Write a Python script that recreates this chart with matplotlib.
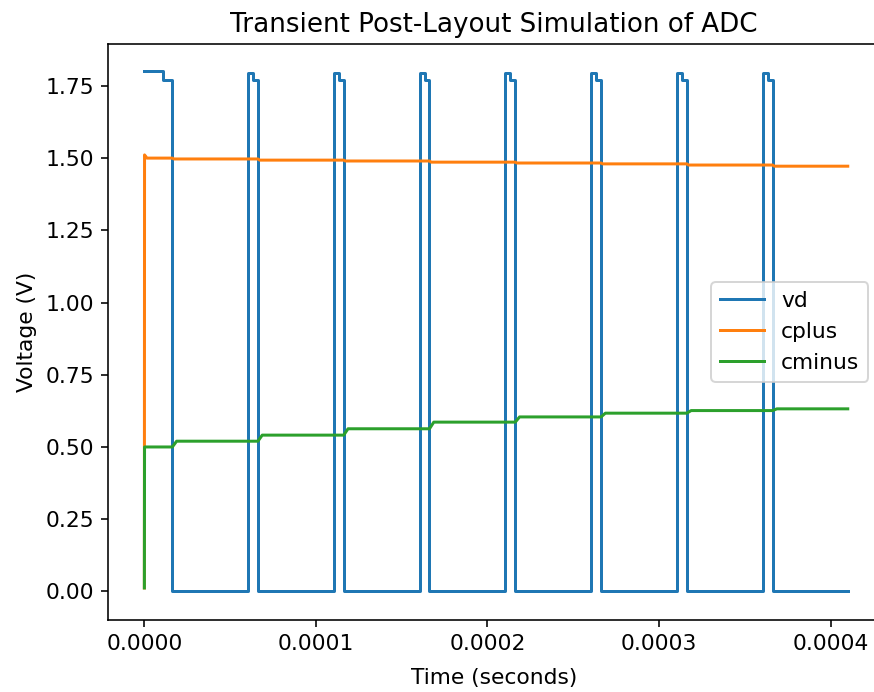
import matplotlib.pyplot as plt

# vd pulse timing (seconds)
first_step = 1.10e-5
first_fall = 1.63e-5
pulse_rise = [6.05e-5, 1.105e-4, 1.605e-4, 2.105e-4, 2.605e-4, 3.105e-4, 3.605e-4]
pulse_step = [6.33e-5, 1.133e-4, 1.633e-4, 2.133e-4, 2.633e-4, 3.133e-4, 3.633e-4]
pulse_fall = [6.62e-5, 1.162e-4, 1.662e-4, 2.162e-4, 2.662e-4, 3.162e-4, 3.662e-4]
t_end = 4.10e-4

vd_start = 1.80
vd_peak = 1.795
vd_hold = 1.772
vd_low = 0.0

# cplus / cminus levels between consecutive vd falling edges
cplus_start = 0.012
cplus_spike = 1.511
cplus_levels = [1.500, 1.497, 1.493, 1.490, 1.486, 1.483, 1.480, 1.476, 1.472]
cminus_start = 0.012
cminus_levels = [0.500, 0.520, 0.541, 0.563, 0.586, 0.604, 0.617, 0.626, 0.632]

# vd waveform
t_vd = [0, first_step, first_step, first_fall, first_fall]
vd = [vd_start, vd_start, vd_hold, vd_hold, vd_low]
for r, s, f in zip(pulse_rise, pulse_step, pulse_fall):
    t_vd += [r, r, s, s, f, f]
    vd += [vd_low, vd_peak, vd_peak, vd_hold, vd_hold, vd_low]
t_vd.append(t_end)
vd.append(vd_low)

edges = [first_fall] + pulse_fall

# cplus waveform
t_cp = [0, 1e-7, 1.5e-6]
cp = [cplus_start, cplus_spike, cplus_levels[0]]
for e, a, b in zip(edges, cplus_levels[:-1], cplus_levels[1:]):
    t_cp += [e, e + 1e-6]
    cp += [a, b]
t_cp.append(t_end)
cp.append(cplus_levels[-1])

# cminus waveform
t_cm = [0, 1e-7]
cm = [cminus_start, cminus_levels[0]]
for e, a, b in zip(edges, cminus_levels[:-1], cminus_levels[1:]):
    t_cm += [e, e + 2.5e-6]
    cm += [a, b]
t_cm.append(t_end)
cm.append(cminus_levels[-1])

plt.rcParams['font.size'] = 10.9

fig = plt.figure(figsize=(874/144, 692/144), dpi=144)
ax = fig.add_axes([108/874, 72/692, 766/874, 576/692])
ax.plot(t_vd, vd, label='vd')
ax.plot(t_cp, cp, label='cplus')
ax.plot(t_cm, cm, label='cminus')
ax.spines['right'].set_visible(False)
ax.set_xlim(-2.12e-5, 4.253e-4)
ax.set_ylim(-0.099, 1.895)
ax.set_xticks([0, 0.0001, 0.0002, 0.0003, 0.0004])
ax.set_xticklabels(['0.0000', '0.0001', '0.0002', '0.0003', '0.0004'])
ax.set_title('Transient Post-Layout Simulation of ADC', x=0.504)
ax.set_xlabel('Time (seconds)')
ax.xaxis.set_label_coords(0.504, -0.083)
ax.set_ylabel('Voltage (V)')
ax.legend(loc='center right', bbox_to_anchor=(868/874, 360/692),
          bbox_transform=fig.transFigure, borderaxespad=0)
fig.savefig('out.png', dpi=144)
